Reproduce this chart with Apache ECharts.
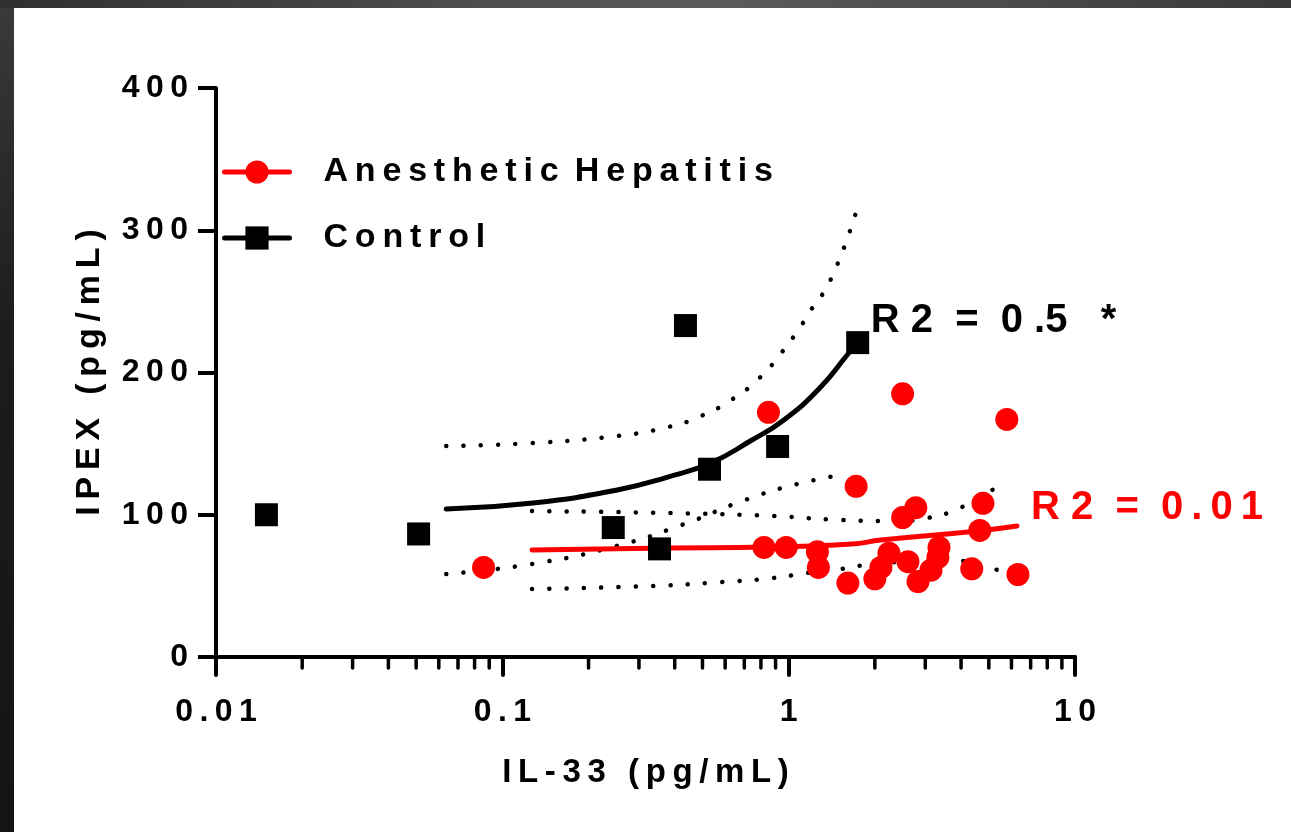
<!DOCTYPE html>
<html>
<head>
<meta charset="utf-8">
<title>IL-33 vs IPEX</title>
<script src="https://cdn.jsdelivr.net/npm/echarts@6/dist/echarts.min.js"></script>
<style>
  html, body {
    margin: 0;
    padding: 0;
  }
  body {
    width: 1291px;
    height: 832px;
    position: relative;
    overflow: hidden;
    background: linear-gradient(180deg, #3a3a3a 0%, #1c1c1c 40%, #141414 100%);
  }
  .topBar {
    position: absolute;
    left: 0;
    top: 0;
    width: 1291px;
    height: 8px;
    background: linear-gradient(90deg, #303030, #5b5b5b 55%, #3a3a3a);
  }
  #chart {
    position: absolute;
    left: 14px;
    top: 8px;
    width: 1277px;
    height: 824px;
    background: #fff;
  }
</style>
</head>
<body>
<div class="topBar"></div>
<div id="chart"></div>
<script>
var FONT = '"Liberation Sans", Arial, sans-serif';
var THIN = '\u2009';

// control group (squares)
var controlX = [0.015, 0.051, 0.244, 0.354, 0.436, 0.529, 0.915, 1.742];
var controlY = [100, 86.5, 91, 76, 233, 132, 148, 221];

// anesthetic hepatitis group (circles)
var hepX = [0.086, 0.85, 0.82, 0.98, 1.26, 1.27, 1.61, 1.72, 2.0, 2.1, 2.24, 2.61,
            2.83, 3.14, 3.32, 3.35, 2.5, 2.5, 2.78, 4.77, 4.65, 4.36, 6.32, 5.78];
var hepY = [63, 172, 77, 77, 74, 63, 52, 120, 55, 63, 73, 67,
            53, 61, 70, 77, 185, 98, 105, 108, 89, 62, 58, 167];

// fitted lines
var controlFitX = [0.0637, 0.128, 0.252, 0.378, 0.534, 0.737, 0.962, 1.294, 1.622, 1.742];
var controlFitY = [104, 108.3, 117.4, 126.5, 136.4, 152, 166.6, 189.8, 213.7, 220.7];
var hepFitX = [0.127, 0.377, 0.84, 1.66, 2.1, 4.57, 6.27];
var hepFitY = [75.2, 76.6, 77.3, 79.4, 82.2, 88.6, 92.1];

// 95% bands (dotted)
var controlUpX = [0.0637, 0.127, 0.252, 0.38, 0.494, 0.63, 0.784, 0.942, 1.11, 1.19, 1.4, 1.715];
var controlUpY = [148.3, 150.4, 155.4, 161.7, 169.4, 180.7, 195.4, 213.7, 233.4, 243.2, 265, 312];
var controlLoX = [0.0637, 0.127, 0.25, 0.423, 0.705, 1.04, 1.57];
var controlLoY = [58.3, 65.4, 78, 92.8, 110.4, 120.9, 128.6];
var hepUpX = [0.127, 0.388, 0.886, 1.53, 2.33, 3.05, 3.95, 5.01, 5.75];
var hepUpY = [102.6, 101.2, 99.1, 96.3, 95.6, 97.7, 104.7, 116, 124.5];
var hepLoX = [0.127, 0.333, 0.584, 0.878, 1.164, 1.53, 1.75, 3.12, 3.95, 5.21, 5.75];
var hepLoY = [47.8, 49.9, 52.7, 55.5, 59.1, 61.9, 64, 67.5, 67.5, 61.9, 58.8];

// minor ticks of the log axis
var xMinorTicks = [0.02, 0.03, 0.04, 0.05, 0.06, 0.07, 0.08, 0.09,
                   0.2, 0.3, 0.4, 0.5, 0.6, 0.7, 0.8, 0.9,
                   2, 3, 4, 5, 6, 7, 8, 9];

var controlR2 = 'R 2  =  0 .5   *';
var hepR2 = 'R 2  =  0' + THIN + '.' + THIN + '0' + THIN + '1';

function zip(xs, ys) {
  return xs.map(function (x, i) { return [x, ys[i]]; });
}
// the original text is set with wide letter spacing
function spread(s) {
  return String(s).split('').join(THIN);
}

function band(name, xs, ys) {
  return {
    name: name,
    type: 'line',
    smooth: true,
    showSymbol: false,
    symbol: 'none',
    silent: true,
    z: 2,
    lineStyle: { color: '#000', width: 4.5, type: [0.1, 17.2], cap: 'round' },
    data: zip(xs, ys)
  };
}

var chart = echarts.init(document.getElementById('chart'));
var option = {
  animation: false,
  backgroundColor: '#fff',
  grid: { left: 202, top: 80, right: 216, bottom: 175, containLabel: false },
  legend: {
    orient: 'vertical',
    left: 208,
    top: 147,
    padding: 0,
    itemWidth: 65,
    itemHeight: 29,
    itemGap: 32,
    data: ['Anesthetic Hepatitis', 'Control'],
    lineStyle: { width: 5, color: 'inherit', cap: 'round' },
    formatter: function (name) {
      return spread(name).replace(THIN + ' ' + THIN, ' ' + THIN);
    },
    textStyle: {
      color: '#000',
      fontSize: 34,
      fontWeight: 'bold',
      fontFamily: FONT,
      lineHeight: 29,
      padding: [0, 0, 0, 29]
    }
  },
  xAxis: {
    type: 'log',
    logBase: 10,
    min: 0.01,
    max: 10,
    name: spread('IL-33 (pg/mL)'),
    nameLocation: 'middle',
    nameGap: 99,
    nameTextStyle: { color: '#000', fontSize: 33, fontWeight: 'bold', fontFamily: FONT },
    axisLine: { lineStyle: { color: '#000', width: 4 } },
    axisTick: { length: 18, lineStyle: { color: '#000', width: 4, cap: 'round' } },
    axisLabel: {
      margin: 39,
      color: '#000',
      fontSize: 32,
      fontWeight: 'bold',
      fontFamily: FONT,
      formatter: function (v) { return spread(+v.toPrecision(6)); }
    },
    splitLine: { show: false }
  },
  yAxis: {
    type: 'value',
    min: 0,
    max: 400,
    interval: 100,
    name: spread('IPEX (pg/mL)'),
    nameLocation: 'middle',
    nameGap: 109,
    nameTextStyle: { color: '#000', fontSize: 34, fontWeight: 'bold', fontFamily: FONT },
    axisLine: { show: true, lineStyle: { color: '#000', width: 4 } },
    axisTick: { show: true, length: 18, lineStyle: { color: '#000', width: 4 } },
    axisLabel: {
      margin: 28,
      color: '#000',
      fontSize: 32,
      fontWeight: 'bold',
      fontFamily: FONT,
      formatter: function (v) { return spread(v); }
    },
    splitLine: { show: false }
  },
  series: [
    {
      name: 'Anesthetic Hepatitis',
      type: 'line',
      smooth: true,
      symbol: 'circle',
      showSymbol: false,
      z: 3,
      itemStyle: { color: '#ff0000' },
      lineStyle: { color: '#ff0000', width: 5, cap: 'round' },
      endLabel: {
        show: true,
        formatter: hepR2,
        offset: [6, -18],
        color: '#ff0000',
        fontSize: 40,
        fontWeight: 'bold',
        fontFamily: FONT
      },
      data: zip(hepFitX, hepFitY)
    },
    {
      name: 'Control',
      type: 'line',
      smooth: true,
      symbol: 'rect',
      showSymbol: false,
      z: 3,
      itemStyle: { color: '#000' },
      lineStyle: { color: '#000', width: 5, cap: 'round' },
      endLabel: {
        show: true,
        formatter: controlR2,
        offset: [5, -22],
        color: '#000',
        fontSize: 40,
        fontWeight: 'bold',
        fontFamily: FONT
      },
      data: zip(controlFitX, controlFitY)
    },
    band('Control upper band', controlUpX, controlUpY),
    band('Control lower band', controlLoX, controlLoY),
    band('Hepatitis upper band', hepUpX, hepUpY),
    band('Hepatitis lower band', hepLoX, hepLoY),
    {
      name: 'Control',
      type: 'scatter',
      symbol: 'rect',
      symbolSize: 23,
      z: 4,
      itemStyle: { color: '#000', opacity: 1 },
      data: zip(controlX, controlY)
    },
    {
      name: 'Anesthetic Hepatitis',
      type: 'scatter',
      symbol: 'circle',
      symbolSize: 23,
      z: 5,
      itemStyle: { color: '#ff0000', opacity: 1 },
      data: zip(hepX, hepY)
    },
    {
      name: 'minor ticks',
      type: 'custom',
      silent: true,
      clip: false,
      z: 6,
      renderItem: function (params, api) {
        var p = api.coord([api.value(0), 0]);
        return {
          type: 'line',
          shape: { x1: p[0], y1: p[1], x2: p[0], y2: p[1] + 11 },
          style: { stroke: '#000', lineWidth: 3.5, lineCap: 'round' }
        };
      },
      data: xMinorTicks.map(function (v) { return [v, 0]; })
    }
  ]
};
chart.setOption(option);
</script>
</body>
</html>
